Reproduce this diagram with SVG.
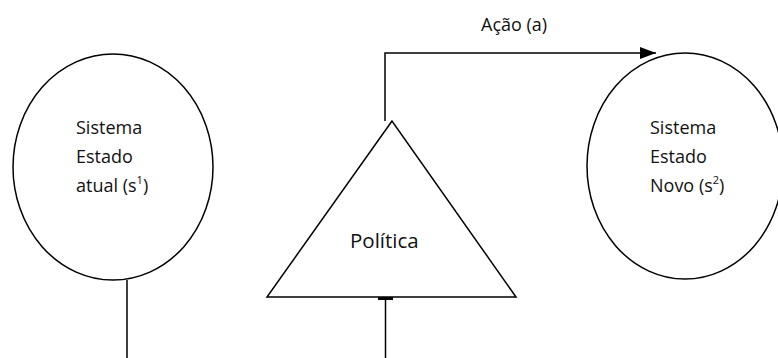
<svg xmlns="http://www.w3.org/2000/svg" width="778" height="358" viewBox="0 0 778 358">
<style>
.shape{fill:none;stroke:#000;stroke-width:1.5}
.conn{fill:none;stroke:#000;stroke-width:1.5}
.lbl{font-family:"Open Sans","Liberation Sans",sans-serif;font-size:18px;fill:#111}
.sup{font-size:11px}
</style>
<defs>
<marker id="arr" markerWidth="16" markerHeight="12" refX="16" refY="6" orient="auto" markerUnits="userSpaceOnUse">
<path d="M0,0 L16,6 L0,12 Z" fill="#000"/>
</marker>
</defs>
<rect width="778" height="358" fill="#fff"/>
<g id="estado-atual">
<ellipse class="shape" cx="113" cy="167" rx="100" ry="113"/>
<text class="lbl" x="76" y="134">Sistema</text>
<text class="lbl" x="76" y="163">Estado</text>
<text class="lbl" x="76" y="192">atual (s<tspan class="sup" dy="-8">1</tspan><tspan dy="8">)</tspan></text>
</g>
<g id="politica">
<polygon class="shape" points="392,121 267,297 516,297"/>
<text class="lbl" x="350" y="248" style="font-size:20.5px">Política</text>
</g>
<g id="estado-novo">
<ellipse class="shape" cx="685" cy="166" rx="98" ry="113"/>
<text class="lbl" x="650" y="134">Sistema</text>
<text class="lbl" x="650" y="163">Estado</text>
<text class="lbl" x="650" y="192">Novo (s<tspan class="sup" dy="-8">2</tspan><tspan dy="8">)</tspan></text>
</g>
<g id="connectors">
<polyline class="conn" points="385,121 385,53 656,53" marker-end="url(#arr)"/>
<text class="lbl" x="481" y="31">Ação (a)</text>
<line class="conn" x1="127" y1="280" x2="127" y2="358"/>
<line class="conn" x1="385.5" y1="298" x2="385.5" y2="358"/>
<line x1="378" y1="298.5" x2="393" y2="298.5" stroke="#000" stroke-width="3"/>
</g>
</svg>
